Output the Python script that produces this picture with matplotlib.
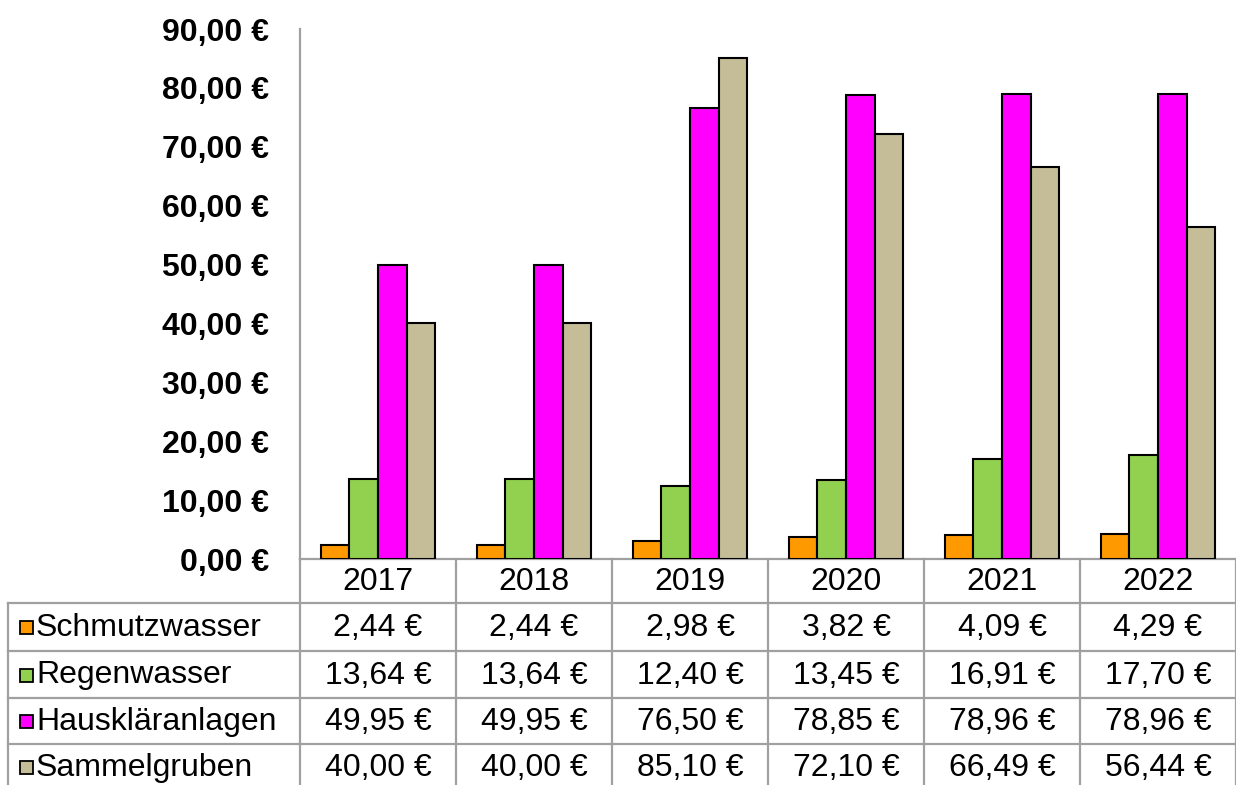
import numpy as np
import matplotlib
matplotlib.use("Agg")
import matplotlib.pyplot as plt
from matplotlib.patches import Rectangle

# data
jahre = ["2017", "2018", "2019", "2020", "2021", "2022"]
serien = ["Schmutzwasser", "Regenwasser", "Hauskläranlagen", "Sammelgruben"]
schmutzwasser = [2.44, 2.44, 2.98, 3.82, 4.09, 4.29]
regenwasser = [13.64, 13.64, 12.40, 13.45, 16.91, 17.70]
hauskläranlagen = [49.95, 49.95, 76.50, 78.85, 78.96, 78.96]
sammelgruben = [40.00, 40.00, 85.10, 72.10, 66.49, 56.44]
farben = ["#FF9900", "#92D050", "#FF00FF", "#C4BD97"]
y_ticks = [0, 10, 20, 30, 40, 50, 60, 70, 80, 90]

werte = [schmutzwasser, regenwasser, hauskläranlagen, sammelgruben]

def euro(v):
    return ("%.2f €" % v).replace(".", ",")

plt.rcParams['font.family'] = ['Liberation Sans', 'DejaVu Sans']

W, H = 1236, 785
fig = plt.figure(figsize=(W / 100, H / 100), dpi=100)

# table layer in pixel coordinates
tab = fig.add_axes([0, 0, 1, 1])
tab.set_xlim(0, W)
tab.set_ylim(H, 0)
tab.axis("off")

x0_plot = 300
y_plot_top, y_plot_bot = 29, 559
col_w = (W - x0_plot) / len(jahre)
row_lines = [559, 603, 651, 698, 744]
gray = "#A0A0A0"
lw = 1.6

# horizontal lines
tab.plot([x0_plot, W], [row_lines[0], row_lines[0]], color=gray, lw=lw)
for y in row_lines[1:]:
    tab.plot([8, W], [y, y], color=gray, lw=lw)
# vertical lines
tab.plot([8, 8], [row_lines[1], H], color=gray, lw=lw)
for i in range(len(jahre) + 1):
    x = x0_plot + i * col_w
    tab.plot([x, x], [row_lines[0], H], color=gray, lw=lw)

fs = 23
for i, j in enumerate(jahre):
    xc = x0_plot + (i + 0.5) * col_w
    tab.text(xc, (row_lines[0] + row_lines[1]) / 2 + 1, j, ha="center", va="center", fontsize=fs)

row_centers = [(row_lines[k] + row_lines[k + 1]) / 2 for k in range(1, 4)] + [767]
for k, name in enumerate(serien):
    yc = row_centers[k]
    tab.add_patch(Rectangle((20, yc - 6), 13, 13, facecolor=farben[k], edgecolor="black", lw=1.3))
    tab.text(36, yc + 1, name, ha="left", va="center", fontsize=fs)
    for i, v in enumerate(werte[k]):
        xc = x0_plot + (i + 0.5) * col_w
        tab.text(xc, yc + 1, euro(v), ha="center", va="center", fontsize=fs)

# bar chart
ax = fig.add_axes([x0_plot / W, (H - y_plot_bot) / H, (W - x0_plot) / W, (y_plot_bot - y_plot_top) / H])
ax.patch.set_alpha(0)
x = np.arange(len(jahre))
bw = 0.183
for k, (vals, c) in enumerate(zip(werte, farben)):
    ax.bar(x + (k - 1.5) * bw, vals, width=bw, color=c, edgecolor="black", linewidth=1.5, zorder=3)

ax.set_xlim(-0.5, len(jahre) - 0.5)
ax.set_ylim(0, 90)
ax.set_yticks(y_ticks)
ax.set_yticklabels([euro(t) for t in y_ticks], fontsize=fs, fontweight="bold")
ax.tick_params(axis="y", length=0, pad=22)
ax.set_xticks([])
for s in ["top", "right", "bottom"]:
    ax.spines[s].set_visible(False)
ax.spines["left"].set_color(gray)
ax.spines["left"].set_linewidth(lw)

fig.savefig("out.png", dpi=100)
